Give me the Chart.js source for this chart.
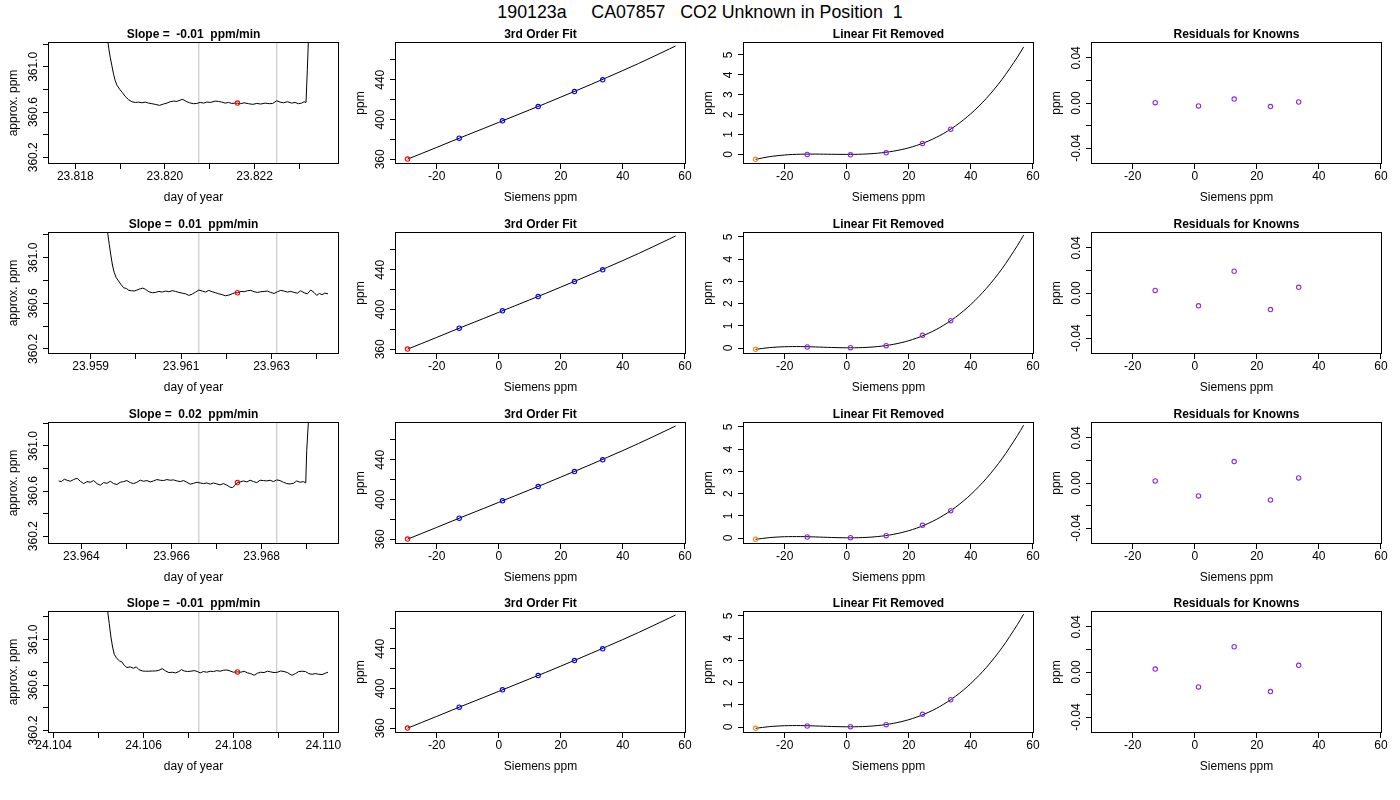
<!DOCTYPE html>
<html lang="en">

<head>
    <meta charset="UTF-8" />
    <title>190123a CA07857 CO2 Unknown in Position 1</title>
    <script src="https://cdn.jsdelivr.net/npm/chart.js"></script>
    <style>
        body {
            margin: 0;
            background: #fff;
            width: 1400px;
            height: 800px;
            position: relative;
            overflow: hidden;
            font-family: 'Liberation Sans', Arial, sans-serif;
        }

        #mainTitle {
            position: absolute;
            left: 0;
            top: 0;
            width: 1400px;
            line-height: 24px;
            text-align: center;
            font-size: 17.8px;
            white-space: pre;
            color: #000;
        }

        canvas {
            position: absolute;
        }
    </style>
</head>

<body>
    <div id="mainTitle">190123a     CA07857   CO2 Unknown in Position  1</div>

    <script>
        // ---- column 1: analyser trace per row ----
        const slopeTitles = ['Slope =  -0.01  ppm/min', 'Slope =  0.01  ppm/min', 'Slope =  0.02  ppm/min', 'Slope =  -0.01  ppm/min'];

        const trace1Day = [23.818691, 23.818728, 23.818750, 23.818780, 23.818817, 23.818854, 23.818892, 23.818929, 23.818988, 23.819048,
            23.819114, 23.819189, 23.819263, 23.819337, 23.819412, 23.819486, 23.819560, 23.819634, 23.819709, 23.819783,
            23.819880, 23.819969, 23.820043, 23.820117, 23.820192, 23.820266, 23.820340, 23.820400, 23.820474, 23.820548,
            23.820637, 23.820712, 23.820786, 23.820860, 23.820934, 23.821024, 23.821120, 23.821195, 23.821269, 23.821343,
            23.821418, 23.821492, 23.821566, 23.821618, 23.821692, 23.821766, 23.821863, 23.821960, 23.822049, 23.822138,
            23.822234, 23.822331, 23.822406, 23.822495, 23.822569, 23.822643, 23.822732, 23.822829, 23.822903, 23.822977,
            23.823051, 23.823104, 23.823148, 23.823178, 23.823200, 23.823222];
        const trace1Ppm = [361.60, 361.22, 361.156, 361.082, 361.009, 360.935, 360.876, 360.838, 360.803, 360.774,
            360.738, 360.709, 360.691, 360.685, 360.688, 360.682, 360.688, 360.679, 360.674, 360.668,
            360.659, 360.671, 360.679, 360.691, 360.697, 360.694, 360.706, 360.712, 360.694, 360.682,
            360.674, 360.676, 360.685, 360.679, 360.688, 360.685, 360.697, 360.694, 360.688, 360.679,
            360.685, 360.676, 360.679, 360.679, 360.674, 360.682, 360.674, 360.668, 360.676, 360.671,
            360.679, 360.674, 360.676, 360.700, 360.688, 360.682, 360.691, 360.679, 360.685, 360.674,
            360.679, 360.691, 360.685, 360.979, 361.22, 362.2];

        const trace2Day = [23.959346, 23.959376, 23.959412, 23.959449, 23.959486, 23.959523, 23.959567, 23.959619, 23.959670, 23.959729,
            23.959788, 23.959847, 23.959906, 23.959965, 23.960024, 23.960097, 23.960156, 23.960215, 23.960289, 23.960362,
            23.960436, 23.960510, 23.960583, 23.960657, 23.960731, 23.960804, 23.960878, 23.960951, 23.961025, 23.961099,
            23.961172, 23.961246, 23.961320, 23.961393, 23.961467, 23.961541, 23.961614, 23.961688, 23.961762, 23.961835,
            23.961909, 23.961982, 23.962056, 23.962130, 23.962189, 23.962248, 23.962321, 23.962395, 23.962468, 23.962542,
            23.962616, 23.962689, 23.962763, 23.962837, 23.962910, 23.962984, 23.963058, 23.963131, 23.963205, 23.963278,
            23.963352, 23.963426, 23.963499, 23.963573, 23.963647, 23.963720, 23.963794, 23.963868, 23.963941, 23.964000,
            23.964059, 23.964118, 23.964177, 23.964251];
        const trace2Ppm = [361.5, 361.220, 361.117, 361.015, 360.927, 360.868, 360.824, 360.795, 360.765, 360.736,
            360.730, 360.713, 360.710, 360.707, 360.716, 360.727, 360.733, 360.722, 360.701, 360.692,
            360.695, 360.704, 360.698, 360.707, 360.701, 360.710, 360.704, 360.695, 360.689, 360.683,
            360.669, 360.680, 360.698, 360.716, 360.707, 360.698, 360.713, 360.701, 360.692, 360.683,
            360.675, 360.666, 360.672, 360.683, 360.692, 360.692, 360.704, 360.701, 360.710, 360.713,
            360.701, 360.695, 360.701, 360.704, 360.707, 360.695, 360.686, 360.701, 360.713, 360.707,
            360.698, 360.704, 360.695, 360.689, 360.710, 360.692, 360.683, 360.716, 360.695, 360.669,
            360.686, 360.675, 360.689, 360.683];

        const trace3Day = [23.963498, 23.963557, 23.963623, 23.963682, 23.963756, 23.963830, 23.963904, 23.963978, 23.964052, 23.964126,
            23.964199, 23.964273, 23.964347, 23.964421, 23.964495, 23.964569, 23.964643, 23.964716, 23.964790, 23.964864,
            23.964938, 23.965012, 23.965086, 23.965160, 23.965233, 23.965307, 23.965381, 23.965455, 23.965529, 23.965603,
            23.965677, 23.965750, 23.965824, 23.965898, 23.965972, 23.966046, 23.966120, 23.966194, 23.966268, 23.966341,
            23.966415, 23.966489, 23.966563, 23.966637, 23.966711, 23.966785, 23.966858, 23.966932, 23.967006, 23.967080,
            23.967154, 23.967228, 23.967302, 23.967353, 23.967412, 23.967464, 23.967523, 23.967597, 23.967671, 23.967745,
            23.967819, 23.967892, 23.967966, 23.968040, 23.968114, 23.968188, 23.968262, 23.968336, 23.968409, 23.968483,
            23.968557, 23.968631, 23.968705, 23.968779, 23.968853, 23.968926, 23.968978, 23.969000, 23.969037, 23.969059];
        const trace3Ppm = [360.690, 360.684, 360.705, 360.696, 360.687, 360.702, 360.714, 360.687, 360.666, 360.684,
            360.678, 360.693, 360.666, 360.652, 360.675, 360.669, 360.687, 360.666, 360.658, 360.678,
            360.684, 360.693, 360.675, 360.666, 360.678, 360.696, 360.687, 360.693, 360.681, 360.690,
            360.702, 360.696, 360.693, 360.702, 360.696, 360.699, 360.690, 360.684, 360.693, 360.678,
            360.661, 360.669, 360.678, 360.672, 360.666, 360.672, 360.661, 360.672, 360.663, 360.655,
            360.666, 360.652, 360.634, 360.631, 360.652, 360.675, 360.681, 360.690, 360.681, 360.696,
            360.684, 360.675, 360.696, 360.693, 360.690, 360.696, 360.684, 360.699, 360.693, 360.678,
            360.666, 360.663, 360.669, 360.690, 360.678, 360.684, 360.672, 360.962, 361.213, 361.6];

        const trace4Day = [24.105170, 24.105200, 24.105237, 24.105274, 24.105311, 24.105348, 24.105407, 24.105467, 24.105518, 24.105570,
            24.105630, 24.105704, 24.105778, 24.105837, 24.105896, 24.105970, 24.106044, 24.106118, 24.106193, 24.106267,
            24.106341, 24.106415, 24.106489, 24.106563, 24.106637, 24.106711, 24.106785, 24.106844, 24.106904, 24.106978,
            24.107052, 24.107126, 24.107200, 24.107259, 24.107333, 24.107407, 24.107481, 24.107555, 24.107629, 24.107704,
            24.107778, 24.107852, 24.107926, 24.108000, 24.108089, 24.108163, 24.108237, 24.108311, 24.108385, 24.108459,
            24.108533, 24.108607, 24.108681, 24.108755, 24.108829, 24.108903, 24.108978, 24.109052, 24.109126, 24.109200,
            24.109259, 24.109304, 24.109378, 24.109452, 24.109526, 24.109600, 24.109674, 24.109748, 24.109822, 24.109896,
            24.109970, 24.110044, 24.110103];
        const trace4Ppm = [361.6, 361.252, 361.141, 361.023, 360.935, 360.871, 360.833, 360.812, 360.804, 360.774,
            360.754, 360.760, 360.748, 360.760, 360.736, 360.724, 360.722, 360.722, 360.724, 360.724,
            360.730, 360.745, 360.724, 360.710, 360.713, 360.707, 360.719, 360.736, 360.724, 360.719,
            360.722, 360.727, 360.719, 360.707, 360.719, 360.713, 360.722, 360.719, 360.727, 360.722,
            360.730, 360.733, 360.724, 360.713, 360.716, 360.713, 360.722, 360.707, 360.701, 360.686,
            360.704, 360.713, 360.710, 360.722, 360.716, 360.710, 360.713, 360.724, 360.719, 360.710,
            360.695, 360.686, 360.701, 360.719, 360.722, 360.719, 360.701, 360.695, 360.701, 360.695,
            360.692, 360.704, 360.713];

        const traceDays = [trace1Day, trace2Day, trace3Day, trace4Day];
        const tracePpms = [trace1Ppm, trace2Ppm, trace3Ppm, trace4Ppm];

        const unknownDay = [23.821618, 23.962248, 23.967464, 24.108089];
        const unknownPpm = [360.679, 360.692, 360.675, 360.716];
        const windowStart = [23.820756, 23.961393, 23.966607, 24.107230];
        const windowEnd = [23.822495, 23.963116, 23.968336, 24.108963];

        const dayAxisMin = [23.817391, 23.958057, 23.963261, 24.103874];
        const dayAxisMax = [23.823884, 23.964493, 23.969716, 24.110348];
        const dayTicks = [
            [23.818, 23.819, 23.820, 23.821, 23.822, 23.823],
            [23.959, 23.960, 23.961, 23.962, 23.963, 23.964],
            [23.964, 23.965, 23.966, 23.967, 23.968, 23.969],
            [24.104, 24.105, 24.106, 24.107, 24.108, 24.109, 24.110]
        ];
        const dayTickLabels = [
            ['23.818', '', '23.820', '', '23.822', ''],
            ['23.959', '', '23.961', '', '23.963', ''],
            ['23.964', '', '23.966', '', '23.968', ''],
            ['24.104', '', '24.106', '', '24.108', '', '24.110']
        ];
        const ppmAxisMin = [360.14, 360.155, 360.13, 360.178];
        const ppmAxisMax = [361.22, 361.225, 361.213, 361.252];
        const ppmTicks = [360.2, 360.4, 360.6, 360.8, 361.0, 361.2];
        const ppmTickLabels = ['360.2', '', '360.6', '', '361.0', ''];

        // ---- columns 2-4: calibration against the Siemens scale ----
        const siemensMin = -33.45;
        const siemensMax = 60.35;
        const siemensTicks = [-20, 0, 20, 40, 60];
        const siemensTickLabels = ['-20', '0', '20', '40', '60'];

        const knownSiemens = [-12.75, 1.2, 12.7, 24.4, 33.5];
        const knownPpm = [381.3, 398.7, 413.1, 428.1, 440.0];
        const unknownSiemens = -29.4;
        const unknownFitPpm = 360.3;

        const fitSiemens = [-29.4, -25, -20, -15, -10, -5, 0, 5, 10, 15, 20, 25, 30, 35, 40, 45, 50, 55, 57];
        const fitPpm = [360.2, 365.7, 372.0, 378.4, 384.7, 390.9, 397.2, 403.5, 409.8, 416.1, 422.6, 429.1, 435.7, 442.5, 449.3, 456.3, 463.6, 471.0, 474.0];
        const fitPpmMin = 355.3;
        const fitPpmMax = 478.0;
        const fitPpmTicks = [360, 380, 400, 420, 440, 460];
        const fitPpmTickLabels = ['360', '', '400', '', '440', ''];

        const linRemovedCurve1 = [-0.25, -0.117, -0.03, 0.009, 0.015, 0.006, 0.0, 0.012, 0.06, 0.161, 0.33, 0.587, 0.947, 1.428, 2.046, 2.817, 3.76, 4.89, 5.4];
        const linRemovedCurve2 = [-0.06, 0.017, 0.058, 0.063, 0.047, 0.024, 0.01, 0.019, 0.065, 0.164, 0.33, 0.579, 0.923, 1.379, 1.961, 2.684, 3.562, 4.611, 5.081];
        const linRemovedKnown1 = [0.0, -0.02, 0.08, 0.55, 1.27];
        const linRemovedKnown2 = [0.045, 0.015, 0.105, 0.57, 1.23];
        const linRemovedUnknown = [-0.25, -0.06, -0.06, -0.06];
        const linRemovedCurves = [linRemovedCurve1, linRemovedCurve2, linRemovedCurve2, linRemovedCurve2];
        const linRemovedKnowns = [linRemovedKnown1, linRemovedKnown2, linRemovedKnown2, linRemovedKnown2];
        const linRemovedMin = [-0.483, -0.27, -0.27, -0.27];
        const linRemovedMax = [5.65, 5.225, 5.225, 5.225];
        const linRemovedTicks = [0, 1, 2, 3, 4, 5];
        const linRemovedTickLabels = ['0', '1', '2', '3', '4', '5'];

        const residuals1 = [0.0003, -0.0026, 0.0035, -0.0032, 0.0009];
        const residuals2 = [0.0023, -0.0114, 0.0193, -0.0147, 0.005];
        const residuals3 = [0.0018, -0.0115, 0.019, -0.015, 0.0045];
        const residuals4 = [0.0026, -0.0132, 0.0224, -0.0174, 0.0059];
        const residualRows = [residuals1, residuals2, residuals3, residuals4];
        const residualTicks = [-0.04, -0.02, 0, 0.02, 0.04];
        const residualTickLabels = ['-0.04', '', '0.00', '', '0.04'];

        // ---- layout ----
        const plotLeft = [48, 395, 743, 1091];
        const plotTop = [42, 232, 422, 611];
        const PLOT_W = 291, PLOT_H = 122;
        const PAD_L = 4, Y_W = 44, PAD_R = 20, TITLE_H = 22, X_H = 44, PAD_B = 1;

        const FONT = "'Liberation Sans', Arial, sans-serif";
        Chart.defaults.font.family = FONT;
        Chart.defaults.font.size = 12;
        Chart.defaults.color = '#000';

        const measureCtx = document.createElement('canvas').getContext('2d');
        function yLabelPadding(labels) {
            measureCtx.font = '12px ' + FONT;
            const widest = Math.max(...labels.map(l => measureCtx.measureText(l).width));
            return 14.5 - 5 - widest / 2;
        }

        const boxPlugin = {
            id: 'box',
            afterDatasetsDraw(chart) {
                const a = chart.chartArea;
                const ctx = chart.ctx;
                ctx.save();
                ctx.strokeStyle = '#000';
                ctx.lineWidth = 1;
                ctx.strokeRect(Math.round(a.left) + 0.5, Math.round(a.top) + 0.5,
                    Math.round(a.right - a.left) - 1, Math.round(a.bottom - a.top) - 1);
                ctx.restore();
            }
        };

        function points(xs, ys) {
            return xs.map((x, i) => ({ x: x, y: ys[i] }));
        }

        function markers(data, color) {
            return {
                data: data, showLine: false, pointStyle: 'circle', pointRadius: 2.2,
                borderColor: color, backgroundColor: 'rgba(0,0,0,0)', pointBorderWidth: 1.1
            };
        }

        function curve(data, color, tension) {
            return {
                data: data, showLine: true, pointRadius: 0, borderColor: color,
                borderWidth: 1, tension: tension || 0
            };
        }

        function drawPanel(col, row, p) {
            const w = PAD_L + Y_W + PLOT_W + PAD_R;
            const h = TITLE_H + PLOT_H + X_H + PAD_B;
            const canvas = document.createElement('canvas');
            canvas.width = w;
            canvas.height = h;
            canvas.style.width = w + 'px';
            canvas.style.height = h + 'px';
            canvas.style.left = (plotLeft[col] - PAD_L - Y_W) + 'px';
            canvas.style.top = (plotTop[row] - TITLE_H) + 'px';
            document.body.appendChild(canvas);

            new Chart(canvas, {
                type: 'scatter',
                data: { datasets: p.datasets },
                options: {
                    responsive: false,
                    animation: false,
                    events: [],
                    layout: { padding: { left: PAD_L, right: PAD_R, top: 0, bottom: PAD_B } },
                    plugins: {
                        legend: { display: false },
                        tooltip: { enabled: false },
                        title: {
                            display: true, text: p.title, fullSize: false, color: '#000',
                            font: { size: 12, weight: 'bold' }, padding: { top: 7, bottom: 0.6 }
                        }
                    },
                    scales: {
                        x: {
                            type: 'linear', min: p.xMin, max: p.xMax,
                            afterBuildTicks: s => { s.ticks = p.xTicks.map(v => ({ value: v })); },
                            afterFit: s => { s.height = X_H; },
                            ticks: {
                                autoSkip: false, minRotation: 0, maxRotation: 0, padding: 0, color: '#000',
                                callback: (v, i) => p.xLabels[i]
                            },
                            grid: { drawOnChartArea: false, drawTicks: true, tickLength: 5, color: '#000' },
                            border: { display: false },
                            title: { display: true, text: p.xTitle, color: '#000', padding: { top: 0, bottom: 2.8 } }
                        },
                        y: {
                            type: 'linear', min: p.yMin, max: p.yMax,
                            afterBuildTicks: s => { s.ticks = p.yTicks.map(v => ({ value: v })); },
                            afterFit: s => { s.width = Y_W; },
                            ticks: {
                                autoSkip: false, minRotation: 90, maxRotation: 90, crossAlign: 'center',
                                padding: yLabelPadding(p.yLabels), color: '#000',
                                callback: (v, i) => p.yLabels[i]
                            },
                            grid: { drawOnChartArea: false, drawTicks: true, tickLength: 5, color: '#000' },
                            border: { display: false },
                            title: { display: true, text: p.yTitle, color: '#000', padding: { top: 2.8, bottom: 0 } }
                        }
                    }
                },
                plugins: [boxPlugin]
            });
        }

        for (let r = 0; r < 4; r++) {
            // trace of the unknown with the averaging window
            drawPanel(0, r, {
                title: slopeTitles[r], xTitle: 'day of year', yTitle: 'approx. ppm',
                xMin: dayAxisMin[r], xMax: dayAxisMax[r], xTicks: dayTicks[r], xLabels: dayTickLabels[r],
                yMin: ppmAxisMin[r], yMax: ppmAxisMax[r], yTicks: ppmTicks, yLabels: ppmTickLabels,
                datasets: [
                    markers([{ x: unknownDay[r], y: unknownPpm[r] }], '#FF0000'),
                    curve(points(traceDays[r], tracePpms[r]), '#000000'),
                    curve([{ x: windowStart[r], y: ppmAxisMin[r] }, { x: windowStart[r], y: ppmAxisMax[r] }], '#BEBEBE'),
                    curve([{ x: windowEnd[r], y: ppmAxisMin[r] }, { x: windowEnd[r], y: ppmAxisMax[r] }], '#BEBEBE')
                ]
            });

            // 3rd order fit
            drawPanel(1, r, {
                title: '3rd Order Fit', xTitle: 'Siemens ppm', yTitle: 'ppm',
                xMin: siemensMin, xMax: siemensMax, xTicks: siemensTicks, xLabels: siemensTickLabels,
                yMin: fitPpmMin, yMax: fitPpmMax, yTicks: fitPpmTicks, yLabels: fitPpmTickLabels,
                datasets: [
                    markers([{ x: unknownSiemens, y: unknownFitPpm }], '#FF0000'),
                    markers(points(knownSiemens, knownPpm), '#0000FF'),
                    curve(points(fitSiemens, fitPpm), '#000000')
                ]
            });

            // linear fit removed
            drawPanel(2, r, {
                title: 'Linear Fit Removed', xTitle: 'Siemens ppm', yTitle: 'ppm',
                xMin: siemensMin, xMax: siemensMax, xTicks: siemensTicks, xLabels: siemensTickLabels,
                yMin: linRemovedMin[r], yMax: linRemovedMax[r], yTicks: linRemovedTicks, yLabels: linRemovedTickLabels,
                datasets: [
                    markers([{ x: unknownSiemens, y: linRemovedUnknown[r] }], '#F28A1E'),
                    markers(points(knownSiemens, linRemovedKnowns[r]), '#8A2BE2'),
                    curve(points(fitSiemens, linRemovedCurves[r]), '#000000', 0.3)
                ]
            });

            // residuals
            drawPanel(3, r, {
                title: 'Residuals for Knowns', xTitle: 'Siemens ppm', yTitle: 'ppm',
                xMin: siemensMin, xMax: siemensMax, xTicks: siemensTicks, xLabels: siemensTickLabels,
                yMin: -0.0541, yMax: 0.0541, yTicks: residualTicks, yLabels: residualTickLabels,
                datasets: [
                    markers(points(knownSiemens, residualRows[r]), '#8A2BE2')
                ]
            });
        }
    </script>
</body>

</html>
